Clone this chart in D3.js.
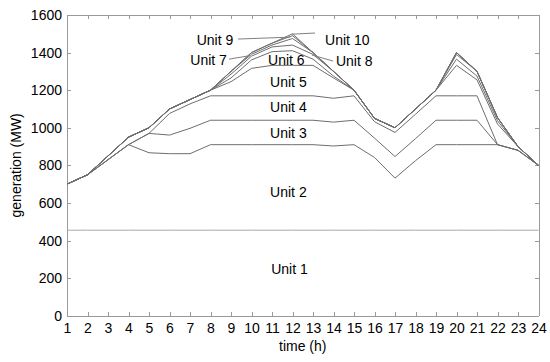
<!DOCTYPE html>
<html>
<head>
<meta charset="utf-8">
<script src="https://cdn.jsdelivr.net/npm/d3@7"></script>
<style>
    body { margin: 0; background: #fff; }
    text { font-family: "Liberation Sans", Arial, sans-serif; fill: #000; }
    .frame path, .frame line { stroke: #9a9a9a; stroke-width: 1; shape-rendering: crispEdges; }
    .unitLine { fill: none; stroke: #6e6e6e; stroke-width: 1; }
    .leader { stroke: #808080; stroke-width: 1; }
</style>
</head>
<body>
<div id="chart"></div>
<script>
//hours of the day
var hours = [1, 2, 3, 4, 5, 6, 7, 8, 9, 10, 11, 12, 13, 14, 15, 16, 17, 18, 19, 20, 21, 22, 23, 24];

//generation of each unit per hour (MW)
var unit1  = [455, 455, 455, 455, 455, 455, 455, 455, 455, 455, 455, 455, 455, 455, 455, 455, 455, 455, 455, 455, 455, 455, 455, 455];
var unit2  = [245, 295, 375, 455, 412, 407, 407, 455, 455, 455, 455, 455, 455, 448, 455, 387, 277, 370, 455, 455, 455, 455, 425, 345];
var unit3  = [0, 0, 0, 0, 103, 99, 135, 130, 130, 130, 130, 130, 130, 127, 130, 103, 115, 117, 130, 130, 130, 0, 0, 0];
var unit4  = [0, 0, 0, 0, 0, 115, 130, 130, 130, 130, 130, 130, 130, 127, 130, 87, 128, 130, 130, 130, 130, 0, 0, 0];
var unit5  = [0, 0, 20, 40, 30, 24, 23, 30, 75, 146, 162, 162, 162, 108, 30, 18, 25, 28, 30, 162, 85, 110, 20, 0];
var unit6  = [0, 0, 0, 0, 0, 0, 0, 0, 20, 45, 73, 78, 33, 10, 0, 0, 0, 0, 0, 33, 20, 17, 0, 0];
var unit7  = [0, 0, 0, 0, 0, 0, 0, 0, 20, 20, 25, 30, 25, 25, 0, 0, 0, 0, 0, 25, 25, 17, 0, 0];
var unit8  = [0, 0, 0, 0, 0, 0, 0, 0, 15, 10, 10, 35, 10, 0, 0, 0, 0, 0, 0, 10, 0, 0, 0, 0];
var unit9  = [0, 0, 0, 0, 0, 0, 0, 0, 0, 9, 10, 15, 0, 0, 0, 0, 0, 0, 0, 0, 0, 0, 0, 0];
var unit10 = [0, 0, 0, 0, 0, 0, 0, 0, 0, 0, 0, 10, 0, 0, 0, 0, 0, 0, 0, 0, 0, 0, 0, 0];

var unitNames = ["Unit 1", "Unit 2", "Unit 3", "Unit 4", "Unit 5", "Unit 6", "Unit 7", "Unit 8", "Unit 9", "Unit 10"];
var yTicks = [0, 200, 400, 600, 800, 1000, 1200, 1400, 1600];

(function(){

//begin script when window loads
window.onload = setChart;

function setChart(){

    var svgWidth = 550, svgHeight = 362;
    var margin = {top: 15, right: 11.5, bottom: 46.3, left: 67};
    var width = svgWidth - margin.left - margin.right;
    var height = svgHeight - margin.top - margin.bottom;

    var svg = d3.select("#chart")
        .append("svg")
        .attr("width", svgWidth)
        .attr("height", svgHeight);

    var chart = svg.append("g")
        .attr("transform", "translate(" + margin.left + "," + margin.top + ")");

    var x = d3.scaleLinear().domain([1, 24]).range([0, width]);
    var y = d3.scaleLinear().domain([0, 1600]).range([height, 0]);

    //build hourly table for the stack
    var units = [unit1, unit2, unit3, unit4, unit5, unit6, unit7, unit8, unit9, unit10];
    var table = hours.map(function(h, i){
        var row = {hour: h};
        units.forEach(function(u, k){ row[unitNames[k]] = u[i]; });
        return row;
    });

    var stacked = d3.stack().keys(unitNames)(table);

    setFrame(chart, x, y, width, height);

    //cumulative line of each unit
    var line = d3.line()
        .x(function(d){ return x(d.data.hour); })
        .y(function(d){ return y(d[1]); });

    chart.selectAll(".unitLine")
        .data(stacked)
        .enter()
        .append("path")
        .attr("class", "unitLine")
        .style("stroke", function(d, i){ return i == 0 ? "#a8a8a8" : null; })
        .attr("d", line);

    setLabels(chart, x, y);

    //axis titles
    svg.append("text")
        .attr("x", margin.left + width / 2)
        .attr("y", 351)
        .attr("text-anchor", "middle")
        .style("font-size", "14px")
        .text("time (h)");

    svg.append("text")
        .attr("transform", "translate(21," + (margin.top + height / 2) + ") rotate(-90)")
        .attr("text-anchor", "middle")
        .style("font-size", "14px")
        .text("generation (MW)");
};

//FRAME AND AXES
function setFrame(chart, x, y, width, height){

    chart.append("g")
        .attr("class", "frame")
        .attr("transform", "translate(0," + height + ")")
        .call(d3.axisBottom(x).tickValues(hours).tickFormat(d3.format("d")).tickSizeInner(-4).tickSizeOuter(0).tickPadding(7))
        .selectAll("text").style("font-size", "14px");

    chart.append("g")
        .attr("class", "frame")
        .call(d3.axisTop(x).tickValues(hours).tickSizeInner(-4).tickSizeOuter(0).tickFormat(""));

    chart.append("g")
        .attr("class", "frame")
        .call(d3.axisLeft(y).tickValues(yTicks).tickFormat(d3.format("d")).tickSizeInner(-4).tickSizeOuter(0).tickPadding(5))
        .selectAll("text").style("font-size", "14px");

    chart.append("g")
        .attr("class", "frame")
        .attr("transform", "translate(" + width + ",0)")
        .call(d3.axisRight(y).tickValues(yTicks).tickSizeInner(-4).tickSizeOuter(0).tickFormat(""));

    chart.selectAll(".frame text").style("fill", "#000").attr("fill", "#000");
};

//UNIT LABELS, placed in hour / MW space
function setLabels(chart, x, y){

    var spots = [
        {name: "Unit 1", h: 11.85, v: 222, anchor: "middle"},
        {name: "Unit 2", h: 11.8, v: 631, anchor: "middle"},
        {name: "Unit 3", h: 11.8, v: 945, anchor: "middle"},
        {name: "Unit 4", h: 11.8, v: 1086, anchor: "middle"},
        {name: "Unit 5", h: 11.8, v: 1219, anchor: "middle"},
        {name: "Unit 6", h: 11.7, v: 1336, anchor: "middle"},
        {name: "Unit 7", h: 8.8, v: 1336, anchor: "end", lead: [[8.9, 1365], [9.93, 1384]]},
        {name: "Unit 8", h: 14.12, v: 1331, anchor: "start", lead: [[12.95, 1387], [13.98, 1355]]},
        {name: "Unit 9", h: 9.11, v: 1443, anchor: "end", lead: [[9.34, 1472], [11.88, 1482]]},
        {name: "Unit 10", h: 13.59, v: 1443, anchor: "start", lead: [[11.98, 1498], [13.1, 1504]]}
    ];

    chart.selectAll(".unitLabel")
        .data(spots)
        .enter()
        .append("text")
        .attr("class", "unitLabel")
        .attr("x", function(d){ return x(d.h); })
        .attr("y", function(d){ return y(d.v); })
        .attr("text-anchor", function(d){ return d.anchor; })
        .style("font-size", "14px")
        .text(function(d){ return d.name; });

    chart.selectAll(".leader")
        .data(spots.filter(function(d){ return d.lead; }))
        .enter()
        .append("line")
        .attr("class", "leader")
        .attr("x1", function(d){ return x(d.lead[0][0]); })
        .attr("y1", function(d){ return y(d.lead[0][1]); })
        .attr("x2", function(d){ return x(d.lead[1][0]); })
        .attr("y2", function(d){ return y(d.lead[1][1]); });
};

})();
</script>
</body>
</html>
